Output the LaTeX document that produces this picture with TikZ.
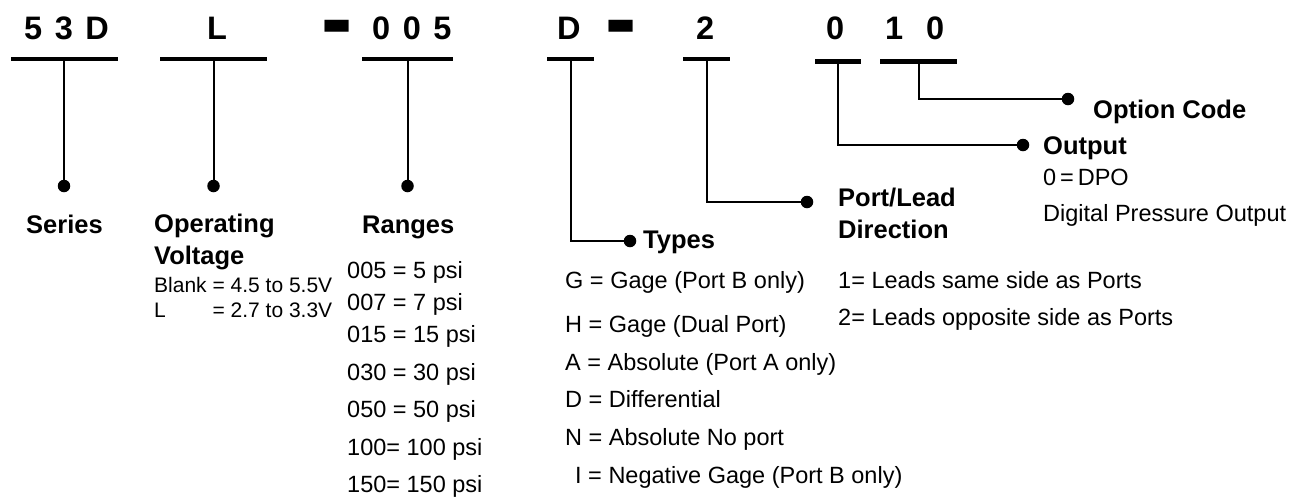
\documentclass[tikz,border=0pt]{standalone}
\usepackage{fontspec}
\setmainfont{Liberation Sans}
\usepackage{graphicx}
\usepackage{tikz}
\usetikzlibrary{positioning}

\tikzset{
	codetext/.style={font=\fontsize{32.5}{32.5}\selectfont\bfseries,
		execute at begin node={\spaceskip=12.5pt\relax},
		inner sep=0pt, anchor=base west},
	codebar/.style={fill=black, inner sep=0pt, minimum height=4.5pt},
	leader/.style={line width=2pt},
	enddot/.style={circle, fill=black, inner sep=0pt, minimum size=12.5pt},
	headtext/.style={font=\fontsize{25.5}{31.5}\selectfont\bfseries,
		inner sep=0pt, anchor=base west, align=left},
	itemtext/.style={font=\fontsize{23.5}{23.5}\selectfont, inner sep=0pt, anchor=base west},
}

\begin{document}
\begin{tikzpicture}[x=1pt, y=-1pt]
				\useasboundingbox[fill=white] (0,0) rectangle (1307,499);

				% le code de commande
				\node[codetext] (code53D) at (24,39) {5 3 D};
				\node[codetext] (codeL) at (207,39) {L};
				\node[codetext] (dashA) at (323.5,58) {\scalebox{1.5}[3.7]{–}};
				\node[codetext] (code005) at (372,39) {0 0 5};
				\node[codetext] (codeD) at (557,39) {D};
				\node[codetext] (dashB) at (607,58) {\scalebox{1.5}[3.7]{–}};
				\node[codetext] (code2) at (696,39) {2};
				\node[codetext] (code0) at (826,39) {0};
				\node[codetext] (code1) at (885,39) {1};
				\node[codetext] (code0b) at (926,39) {0};

				\node[codebar, minimum width=107pt] (bar53D) at (64,59) {};
				\node[codebar, minimum width=107pt] (barL) at (213.5,59) {};
				\node[codebar, minimum width=91pt] (bar005) at (407.5,59) {};
				\node[codebar, minimum width=47pt] (barD) at (570.5,59) {};
				\node[codebar, minimum width=47pt] (bar2) at (706.5,59) {};
				\node[codebar, minimum width=46pt] (bar0) at (838,61.5) {};
				\node[codebar, minimum width=77pt] (bar10) at (918.5,61.5) {};

				\node[enddot] (dotSeries) at (64,186) {};
				\node[enddot] (dotVolt) at (213.5,186) {};
				\node[enddot] (dotRange) at (407.5,186) {};
				\node[enddot] (dotTypes) at (630,241) {};
				\node[enddot] (dotPort) at (807,202) {};
				\node[enddot] (dotOut) at (1023,145) {};
				\node[enddot] (dotOpt) at (1068,99) {};

				\draw[leader] (bar53D.center) -- (dotSeries);
				\draw[leader] (barL.center) -- (dotVolt);
				\draw[leader] (bar005.center) -- (dotRange);
				\draw[leader] (barD.center) |- (dotTypes);
				\draw[leader] (bar2.center) |- (dotPort);
				\draw[leader] (bar0.center) |- (dotOut);
				\draw[leader] (bar10.center) |- (dotOpt);

				% titres
				\node[headtext] (headSeries) at (26,233) {Series};
				\node[headtext] (headVolt) at (154,264) {Operating\\Voltage};
				\node[headtext] (headRange) at (362,233) {Ranges};
				\node[headtext] (headTypes) at (643,248) {Types};
				\node[headtext] (headPort) at (838,238) {Port/Lead\\Direction};
				\node[headtext] (headOut) at (1043,154) {Output};
				\node[headtext] (headOpt) at (1093,118) {Option Code};

				% valeurs
				\node[itemtext, font=\fontsize{21}{25}\selectfont] (voltList) at (154,292) {%
					\begin{tabular}[t]{@{}l@{ }l@{}}
						Blank & = 4.5 to 5.5V\\
						L & = 2.7 to 3.3V
					\end{tabular}};

				\foreach \y/\t [count=\i] in {278/005 = 5 psi, 310/007 = 7 psi, 342/015 = 15 psi,
					380/030 = 30 psi, 417/050 = 50 psi, 455/100= 100 psi, 492/150= 150 psi}
					\node[itemtext] (range\i) at (347,\y) {\t};

				\foreach \x/\y/\t [count=\i] in {565/288/G = Gage (Port B only),
					565/332/H = Gage (Dual Port), 565/370/A = Absolute (Port A only),
					565/407/D = Differential, 565/445/N = Absolute No port,
					575/483/I = Negative Gage (Port B only)}
					\node[itemtext] (type\i) at (\x,\y) {\t};

				\node[itemtext] (port1) at (838,288.5) {1= Leads same side as Ports};
				\node[itemtext] (port2) at (838,325) {2= Leads opposite side as Ports};

				\node[itemtext] (out1) at (1043,185) {0\,=\,DPO};
				\node[itemtext] (out2) at (1043,221) {Digital Pressure Output};
\end{tikzpicture}
\end{document}
